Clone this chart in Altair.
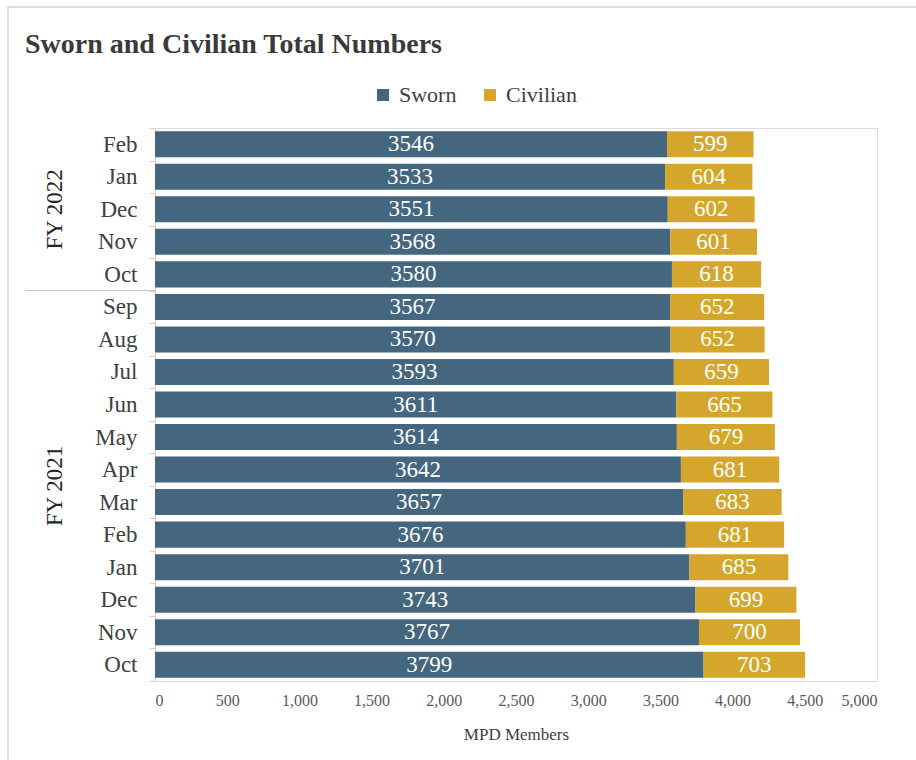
import altair as alt
import pandas as pd

# ---- data ----
months = ["Feb", "Jan", "Dec", "Nov", "Oct",
          "Sep", "Aug", "Jul", "Jun", "May", "Apr", "Mar", "Feb", "Jan", "Dec", "Nov", "Oct"]
fiscal_years = ["FY 2022"] * 5 + ["FY 2021"] * 12
sworn = [3546, 3533, 3551, 3568, 3580,
         3567, 3570, 3593, 3611, 3614, 3642, 3657, 3676, 3701, 3743, 3767, 3799]
civilian = [599, 604, 602, 601, 618,
            652, 652, 659, 665, 679, 681, 683, 681, 685, 699, 700, 703]
series = ["Sworn", "Civilian"]
colors = ["#44667f", "#d4a72c"]
x_ticks = [0, 500, 1000, 1500, 2000, 2500, 3000, 3500, 4000, 4500, 5000]

keys = [f"{fy}|{m}" for fy, m in zip(fiscal_years, months)]

rows = []
for k, s, c in zip(keys, sworn, civilian):
    rows.append({"key": k, "type": "Sworn", "value": s, "start": 0, "end": s, "mid": s / 2})
    rows.append({"key": k, "type": "Civilian", "value": c, "start": s, "end": s + c, "mid": s + c / 2})
df = pd.DataFrame(rows)

FONT = "Liberation Serif"
W, H = 722, 553
PAD_L, PAD_T = 155, 128

y_axis = alt.Axis(
    title=None,
    labelExpr="split(datum.value, '|')[1]",
    labelFont=FONT, labelFontSize=23, labelColor="#404040", labelPadding=12,
    tickBand="extent", tickSize=6, tickColor="#d0d0d0",
    domainColor="#d0d0d0",
)
y_scale = alt.Scale(domain=keys, paddingInner=0, paddingOuter=0)

def yenc(**kw):
    return alt.Y("key:N", scale=y_scale, axis=y_axis, sort=None, **kw)

x_enc = alt.X(
    "start:Q",
    scale=alt.Scale(domain=[0, 5000], nice=False),
    axis=alt.Axis(
        values=x_ticks, format=",d", grid=False, ticks=False, domain=False,
        labelFont=FONT, labelFontSize=16, labelColor="#595959", labelPadding=11,
        title="MPD Members", titleFont=FONT, titleFontSize=17, titleFontWeight="normal",
        titleColor="#404040", titlePadding=18,
    ),
)

base = alt.Chart(df)

bars = base.mark_bar(height={"band": 0.8}).encode(
    x=x_enc,
    x2="end:Q",
    y=yenc(),
    color=alt.Color(
        "type:N",
        scale=alt.Scale(domain=series, range=colors),
        legend=alt.Legend(
            title=None, orient="none", direction="horizontal",
            legendX=217, legendY=-44, padding=0,
            symbolType="square", symbolSize=144, symbolStrokeWidth=0,
            labelFont=FONT, labelFontSize=22, labelColor="#404040",
            columnPadding=22, labelOffset=5,
        ),
    ),
)

labels = base.mark_text(color="white", font=FONT, fontSize=23, baseline="middle").encode(
    x="mid:Q",
    y=yenc(),
    text="value:Q",
)

fy_df = pd.DataFrame({"key": ["FY 2022|Dec"], "label": ["FY 2022"]})
fy_df2 = pd.DataFrame({"key": ["FY 2021|Apr"], "label": ["FY 2021"]})

fy22 = alt.Chart(fy_df).mark_text(angle=270, font=FONT, fontSize=23, color="#262626", baseline="middle").encode(
    x=alt.value(-100), y=yenc(), text="label:N"
)
fy21 = alt.Chart(fy_df2).mark_text(angle=270, font=FONT, fontSize=23, color="#262626", baseline="middle").encode(
    x=alt.value(-100), y=yenc(bandPosition=1), text="label:N"
)

sep_df = pd.DataFrame({"key": ["FY 2022|Oct"]})
sep = alt.Chart(sep_df).mark_rule(color="#bfbfbf", strokeWidth=1).encode(
    x=alt.value(-130), x2=alt.value(0), y=yenc(bandPosition=1)
)

frame_df = pd.DataFrame({"a": [0]})
frame = alt.Chart(frame_df).mark_rect(fill=None, stroke="#d4d4d4", strokeWidth=1.5).encode(
    x=alt.value(-147), x2=alt.value(916 - PAD_L + 20),
    y=alt.value(-121), y2=alt.value(760 - PAD_T + 20),
)

chart = alt.layer(frame, bars, labels, fy22, fy21, sep).properties(
    width=W, height=H,
    autosize=alt.AutoSizeParams(type="none"),
    padding={"left": PAD_L, "top": PAD_T, "right": 916 - PAD_L - W, "bottom": 760 - PAD_T - H},
    title=alt.TitleParams(
        "Sworn and Civilian Total Numbers",
        anchor="start", frame="group", dx=-130, offset=-75,
        font=FONT, fontSize=28, fontWeight="bold", color="#3a3a3a",
        baseline="alphabetic",
    ),
).configure_view(
    stroke="#d9d9d9", strokeWidth=1.5
).configure_legend(
    labelFont=FONT, labelFontSize=22, labelColor="#404040"
).configure(font=FONT)

chart.save("out.html", embed_options={"renderer": "svg", "actions": False})
